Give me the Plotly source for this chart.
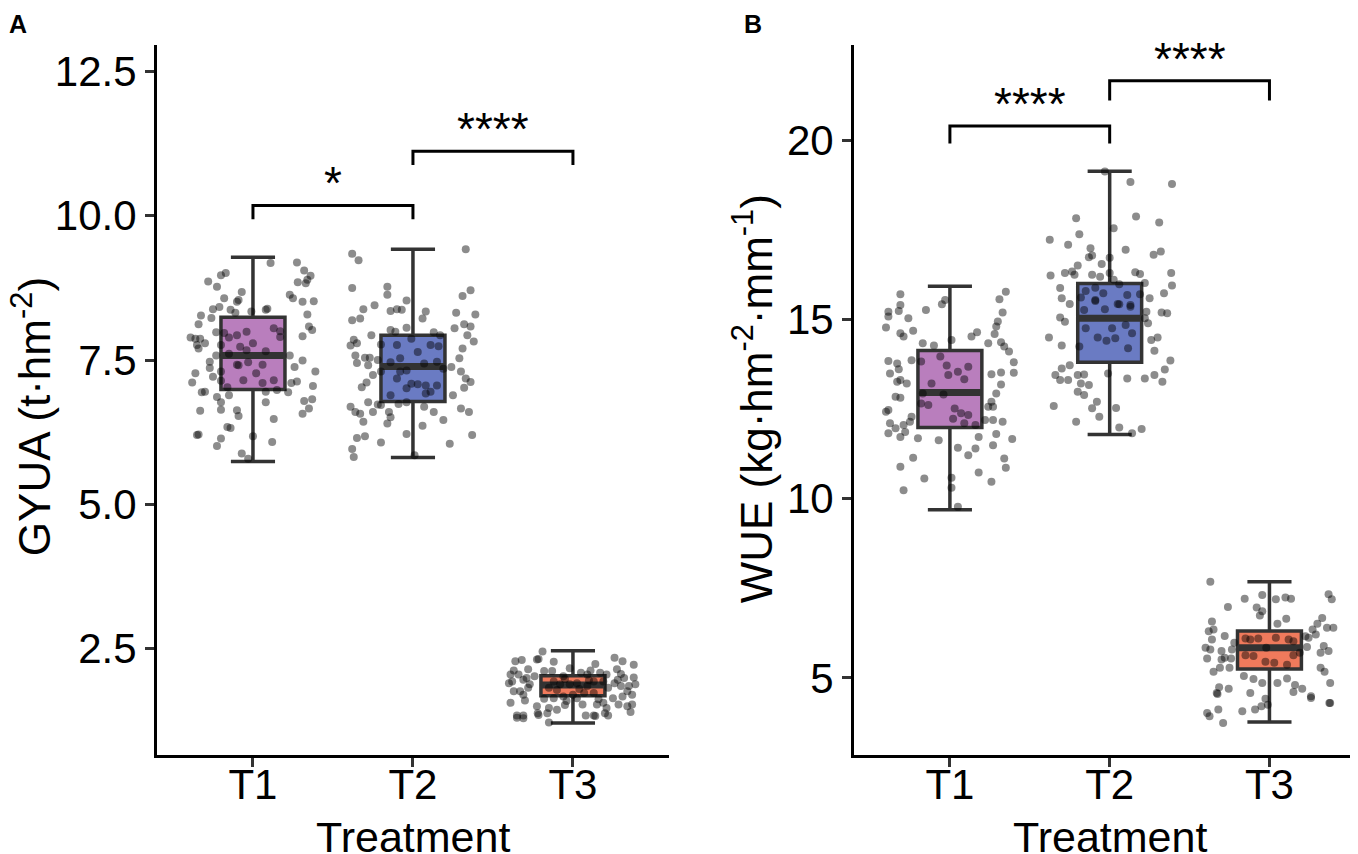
import plotly.graph_objects as go

# ── data ──────────────────────────────────────────────────────────────────────
CATS = ["T1", "T2", "T3"]
FILLS = ["#B97EBD", "#6A7BC3", "#F07A5C"]

# panel A: GYUA (t·hm-2)
GYUA_LOW = [5.74, 5.81, 1.21]
GYUA_Q1 = [6.99, 6.78, 1.68]
GYUA_MED = [7.58, 7.39, 1.87]
GYUA_Q3 = [8.24, 7.93, 2.03]
GYUA_HIGH = [9.28, 9.42, 2.46]

# panel B: WUE (kg·hm-2·mm-1)
WUE_LOW = [9.69, 11.79, 3.77]
WUE_Q1 = [11.98, 13.80, 5.25]
WUE_MED = [12.96, 15.03, 5.84]
WUE_Q3 = [14.13, 16.00, 6.31]
WUE_HIGH = [15.92, 19.13, 7.68]

# significance brackets
GYUA_PAIRS = [(1, 2), (2, 3)]
GYUA_BRACKET = [10.18, 11.12]
GYUA_TIP = [9.94, 10.88]
GYUA_SIG = ["*", "****"]

WUE_PAIRS = [(1, 2), (2, 3)]
WUE_BRACKET = [20.39, 21.65]
WUE_TIP = [19.90, 21.10]
WUE_SIG = ["****", "****"]

# jittered observations: (horizontal jitter, value)
A_T1_PTS = [
    (0.11, 9.18), (0.275, 9.19), (0.32, 9.05), (0.36, 8.96), (0.34, 8.89), (0.33, 8.83), (0.28, 8.85),
    (-0.20, 8.97), (-0.17, 9.01), (-0.28, 8.86), (-0.225, 8.77), (-0.07, 8.68), (-0.10, 8.51), (-0.09, 8.54),
    (-0.18, 8.57), (0.25, 8.57), (0.31, 8.51), (0.38, 8.52), (0.23, 8.63), (-0.21, 8.42), (-0.25, 8.38),
    (-0.14, 8.37), (-0.11, 8.32), (-0.01, 8.34), (0.09, 8.39), (0.08, 8.37), (0.34, 8.29), (-0.325, 8.27),
    (-0.26, 8.23), (-0.34, 8.12), (-0.23, 7.98), (-0.18, 7.97), (-0.15, 7.89), (-0.10, 7.93), (-0.04, 7.99),
    (0.13, 8.05), (0.17, 8.00), (0.35, 8.08), (0.37, 8.02), (0.31, 7.91), (-0.39, 7.89), (-0.36, 7.87),
    (-0.33, 7.87), (-0.35, 7.76), (-0.30, 7.79), (-0.34, 7.70), (-0.20, 7.76), (-0.08, 7.73), (0.0, 7.79),
    (0.17, 7.90), (0.08, 7.65), (0.23, 7.58), (-0.04, 7.67), (-0.15, 7.61), (-0.27, 7.47), (-0.23, 7.58),
    (-0.27, 7.36), (-0.10, 7.42), (-0.09, 7.41), (-0.03, 7.46), (0.06, 7.42), (0.26, 7.38), (0.31, 7.49),
    (-0.36, 7.27), (-0.20, 7.30), (0.02, 7.27), (-0.25, 7.21), (-0.38, 7.11), (-0.20, 7.14), (-0.06, 7.15),
    (0.06, 7.10), (0.13, 7.15), (0.24, 7.10), (0.275, 7.13), (0.39, 7.30), (0.375, 7.05), (-0.16, 7.03),
    (-0.32, 6.94), (-0.30, 6.95), (0.08, 6.95), (0.15, 6.98), (0.22, 6.94), (-0.225, 6.86), (-0.20, 6.77),
    (-0.15, 6.89), (0.08, 6.77), (0.32, 6.79), (0.37, 6.82), (0.35, 6.66), (0.31, 6.57), (-0.33, 6.62),
    (-0.20, 6.64), (-0.10, 6.63), (-0.09, 6.53), (0.13, 6.48), (-0.14, 6.32), (-0.16, 6.34), (-0.35, 6.20),
    (-0.20, 6.14), (-0.225, 6.01), (0.0, 6.18), (0.12, 6.08), (-0.07, 5.88), (-0.03, 5.79), (-0.34, 6.21),
]
A_T2_PTS = [
    (-0.38, 9.34), (-0.34, 9.23), (0.33, 9.42), (-0.38, 8.75), (-0.16, 8.77), (-0.16, 8.63), (-0.04, 8.53),
    (0.36, 8.71), (0.31, 8.61), (-0.24, 8.45), (-0.31, 8.38), (-0.14, 8.35), (-0.10, 8.38), (-0.07, 8.37),
    (0.08, 8.34), (0.06, 8.22), (-0.38, 8.19), (-0.33, 8.22), (0.27, 8.32), (0.32, 8.12), (0.36, 8.08),
    (0.39, 8.29), (-0.26, 7.93), (-0.14, 8.02), (-0.11, 7.99), (-0.04, 8.06), (0.13, 7.98), (0.17, 7.93),
    (0.26, 8.05), (0.34, 7.93), (0.38, 7.82), (-0.37, 7.85), (-0.39, 7.75), (-0.35, 7.79), (-0.20, 7.77),
    (-0.10, 7.76), (-0.01, 7.87), (0.03, 7.64), (0.11, 7.76), (0.16, 7.74), (0.31, 7.70), (-0.36, 7.58),
    (-0.30, 7.54), (-0.27, 7.54), (-0.22, 7.50), (-0.14, 7.46), (-0.08, 7.53), (-0.08, 7.30), (-0.04, 7.32),
    (0.07, 7.44), (0.15, 7.47), (0.19, 7.35), (0.24, 7.38), (0.29, 7.53), (-0.35, 7.45), (-0.28, 7.41),
    (-0.25, 7.24), (-0.20, 7.30), (-0.32, 7.03), (-0.29, 7.11), (-0.10, 7.18), (-0.01, 7.09), (0.03, 7.08),
    (0.08, 7.06), (0.15, 7.06), (0.30, 7.30), (0.33, 7.18), (0.36, 7.12), (0.32, 7.02), (-0.14, 6.89),
    (-0.04, 7.01), (0.08, 6.92), (0.11, 6.95), (0.25, 6.89), (-0.28, 6.77), (-0.22, 6.73), (-0.09, 6.74),
    (-0.04, 6.77), (0.07, 6.69), (0.13, 6.60), (0.30, 6.66), (0.35, 6.60), (-0.39, 6.69), (-0.36, 6.60),
    (-0.33, 6.57), (-0.25, 6.60), (-0.20, 6.72), (-0.15, 6.60), (-0.14, 6.51), (-0.31, 6.43), (-0.16, 6.40),
    (0.19, 6.46), (0.06, 6.36), (-0.35, 6.15), (-0.30, 6.18), (-0.20, 6.07), (-0.04, 6.22), (0.23, 6.05),
    (0.37, 6.20), (-0.38, 5.96), (-0.37, 5.82), (0.01, 5.85),
]
A_T3_PTS = [
    (-0.19, 2.45), (-0.225, 2.31), (-0.215, 2.32), (-0.12, 2.27), (-0.36, 2.28), (-0.32, 2.30), (-0.28, 2.14),
    (-0.37, 2.12), (-0.39, 2.05), (-0.34, 2.05), (-0.31, 1.96), (-0.29, 1.99), (-0.27, 1.88), (-0.38, 1.93),
    (-0.40, 1.90), (-0.37, 1.76), (-0.33, 1.76), (-0.28, 1.82), (-0.31, 1.70), (-0.18, 2.11), (-0.13, 2.11),
    (-0.06, 2.02), (0.05, 2.08), (0.09, 2.05), (0.14, 2.23), (0.17, 2.08), (0.21, 2.05), (0.26, 2.34),
    (0.31, 2.28), (0.38, 2.22), (0.275, 2.14), (0.32, 1.99), (0.38, 2.00), (0.39, 1.88), (0.35, 1.85),
    (0.30, 1.85), (0.26, 1.90), (0.22, 1.82), (0.34, 1.76), (0.37, 1.70), (0.31, 1.67), (0.25, 1.64),
    (0.19, 1.93), (0.13, 1.93), (0.09, 1.85), (0.025, 1.90), (-0.02, 1.88), (-0.08, 1.88), (-0.12, 1.93),
    (-0.15, 1.82), (0.0, 1.70), (0.07, 1.73), (0.13, 1.73), (-0.06, 1.67), (-0.12, 1.64), (-0.18, 1.63),
    (-0.225, 1.50), (-0.15, 1.47), (-0.10, 1.44), (-0.16, 1.38), (-0.215, 1.35), (0.06, 1.53), (0.15, 1.53),
    (0.19, 1.56), (0.21, 1.47), (0.285, 1.53), (0.34, 1.50), (-0.39, 1.56), (-0.35, 1.34), (-0.31, 1.34),
    (0.08, 1.34), (0.13, 1.34), (0.22, 1.34), (0.36, 1.40), (-0.04, 1.59), (0.025, 1.64), (-0.35, 1.30),
    (-0.31, 1.29), (-0.15, 1.22), (0.14, 1.33), (0.20, 1.38), (-0.22, 1.38), (0.37, 1.53),
    (-0.24, 2.02), (-0.05, 1.97), (0.04, 1.80), (0.10, 1.95), (-0.10, 1.78), (0.28, 1.96), (-0.30, 1.60),
    (0.16, 1.62), (-0.05, 1.52), (0.30, 2.06), (-0.02, 2.16), (0.11, 2.12),
]
B_T1_PTS = [
    (-0.31, 15.70), (0.35, 15.77), (0.31, 15.56), (-0.385, 15.21), (-0.385, 15.08), (-0.32, 15.23),
    (-0.31, 15.40), (-0.15, 15.26), (-0.05, 15.42), (-0.03, 15.54), (-0.26, 15.03), (0.33, 15.19),
    (0.30, 14.94), (0.29, 14.80), (-0.40, 14.77), (-0.23, 14.68), (-0.31, 14.61), (-0.29, 14.52),
    (0.17, 14.64), (0.135, 14.52), (0.28, 14.59), (-0.17, 14.33), (-0.10, 14.27), (0.01, 14.42),
    (0.24, 14.33), (0.32, 14.36), (0.34, 14.24), (0.37, 14.10), (-0.385, 13.84), (-0.33, 13.77),
    (-0.24, 13.86), (-0.18, 13.82), (-0.06, 13.96), (0.115, 13.68), (0.05, 13.54), (-0.02, 13.71),
    (0.40, 13.80), (0.40, 13.51), (0.26, 13.47), (0.32, 13.52), (-0.375, 13.49), (-0.32, 13.61),
    (-0.33, 13.26), (-0.27, 13.21), (-0.31, 13.31), (-0.115, 13.21), (0.09, 13.33), (-0.01, 13.45),
    (0.32, 13.18), (-0.34, 12.84), (-0.31, 12.81), (-0.17, 12.93), (-0.04, 12.90), (0.29, 12.93),
    (0.26, 12.70), (0.24, 12.56), (0.27, 12.56), (-0.40, 12.42), (-0.385, 12.47), (-0.24, 12.28),
    (-0.18, 12.65), (-0.135, 12.61), (0.03, 12.51), (0.07, 12.38), (0.115, 12.33), (0.22, 12.19),
    (0.27, 12.19), (0.33, 12.14), (-0.375, 12.10), (-0.385, 11.82), (-0.34, 11.96), (-0.31, 11.72),
    (-0.28, 11.86), (-0.29, 12.05), (-0.25, 12.14), (-0.20, 11.68), (0.02, 12.23), (0.09, 12.10),
    (0.16, 12.05), (0.18, 11.72), (0.29, 11.80), (0.39, 11.66), (-0.07, 11.63), (0.05, 11.42),
    (0.115, 11.21), (0.16, 11.40), (0.27, 11.49), (-0.23, 11.14), (-0.31, 10.89), (0.34, 11.12),
    (0.35, 10.86), (0.18, 10.73), (-0.16, 10.56), (0.01, 10.58), (0.26, 10.47), (-0.29, 10.23),
    (0.01, 10.30), (0.05, 9.77),
]
B_T2_PTS = [
    (-0.03, 19.12), (0.13, 18.83), (0.39, 18.77), (-0.21, 17.82), (0.165, 17.87), (0.31, 17.70),
    (0.025, 17.54), (-0.19, 17.37), (-0.375, 17.22), (-0.26, 17.08), (-0.12, 16.98), (0.10, 16.94),
    (0.275, 16.80), (0.32, 16.89), (-0.13, 16.73), (-0.11, 16.78), (0.0, 16.72), (-0.05, 16.54),
    (-0.20, 16.50), (-0.235, 16.33), (-0.28, 16.29), (-0.22, 16.24), (-0.37, 16.22), (-0.11, 16.24),
    (-0.06, 16.19), (0.0, 16.29), (0.16, 16.31), (0.19, 16.26), (0.385, 16.29), (0.22, 16.01),
    (0.025, 16.10), (-0.09, 15.88), (-0.04, 15.73), (0.06, 15.98), (0.11, 15.68), (0.19, 15.70),
    (-0.18, 15.61), (-0.09, 15.51), (0.05, 15.43), (0.13, 15.40), (0.39, 15.94), (0.34, 15.73),
    (-0.31, 15.87), (-0.30, 15.59), (-0.25, 15.43), (-0.15, 15.79), (-0.09, 15.54), (-0.03, 15.28),
    (0.06, 15.42), (0.13, 15.35), (0.25, 15.59), (0.23, 15.21), (0.325, 15.19), (0.36, 15.17),
    (-0.31, 15.05), (-0.28, 14.93), (-0.16, 15.26), (-0.15, 14.75), (0.015, 14.75), (0.10, 14.84),
    (0.14, 14.61), (0.22, 15.03), (0.24, 14.89), (-0.38, 14.49), (-0.30, 14.27), (-0.19, 14.24),
    (-0.075, 14.49), (-0.02, 14.40), (0.035, 14.47), (0.115, 14.19), (0.26, 14.42), (0.30, 14.49),
    (0.28, 14.12), (0.38, 13.85), (0.345, 13.60), (0.28, 13.45), (0.33, 13.26), (0.22, 13.35),
    (0.11, 13.35), (-0.01, 13.49), (-0.30, 13.63), (-0.25, 13.72), (-0.34, 13.45), (-0.31, 13.31),
    (-0.26, 13.31), (-0.20, 13.45), (-0.16, 13.46), (-0.18, 13.21), (-0.13, 13.17), (-0.20, 12.98),
    (-0.16, 12.89), (-0.35, 12.58), (-0.08, 12.70), (-0.11, 12.52), (-0.065, 12.28), (0.04, 12.53),
    (-0.21, 12.14), (0.06, 11.98), (0.20, 11.94), (0.14, 11.82),
]
B_T3_PTS = [
    (-0.37, 7.68), (-0.045, 7.31), (-0.155, 7.21), (0.04, 7.19), (0.10, 7.24), (0.135, 7.21), (0.37, 7.33),
    (0.39, 7.19), (-0.26, 6.98), (-0.08, 6.96), (-0.045, 6.86), (-0.06, 6.74), (0.05, 6.51), (0.105, 6.65),
    (-0.36, 6.57), (-0.38, 6.30), (-0.35, 6.35), (-0.28, 6.17), (-0.36, 6.07), (-0.40, 5.84), (-0.37, 5.79),
    (-0.30, 5.75), (-0.39, 5.54), (-0.30, 5.51), (-0.28, 5.56), (-0.24, 5.54), (-0.31, 5.28), (-0.35, 5.17),
    (-0.25, 5.28), (-0.22, 5.98), (-0.235, 5.79), (-0.15, 6.10), (-0.12, 6.07), (-0.07, 6.10), (-0.02, 5.84),
    (0.04, 6.12), (0.12, 6.07), (0.15, 6.02), (-0.15, 5.63), (-0.10, 5.61), (-0.025, 5.45), (0.03, 5.42),
    (0.11, 5.37), (0.15, 5.63), (0.19, 5.70), (0.225, 6.16), (0.27, 6.35), (0.30, 6.51), (0.33, 6.67),
    (0.36, 6.40), (0.40, 6.40), (0.29, 6.21), (0.245, 6.12), (0.34, 5.89), (0.37, 5.75), (0.32, 5.70),
    (0.235, 5.86), (0.32, 5.28), (0.345, 5.17), (-0.16, 5.05), (-0.10, 4.97), (-0.045, 4.86), (0.05, 4.86),
    (0.11, 4.98), (0.16, 4.80), (0.205, 4.70), (-0.315, 4.74), (-0.255, 4.70), (-0.325, 4.55), (-0.12, 4.58),
    (-0.025, 4.42), (0.15, 4.61), (0.26, 4.49), (0.38, 4.86), (0.38, 4.30), (-0.39, 4.02), (-0.32, 4.12),
    (-0.29, 3.74), (-0.17, 4.07), (-0.09, 4.12), (-0.05, 4.21), (-0.01, 4.25), (-0.33, 4.58), (0.26, 4.44),
    (0.375, 4.30), (-0.375, 3.93),
]

# ── style ─────────────────────────────────────────────────────────────────────
FONT = "Liberation Sans, Arial, sans-serif"
LINE_COL = "#333333"
PT_COL = "rgba(0,0,0,0.45)"

fig = go.Figure()


def add_panel(xa, ya, low, q1, med, q3, high, groups, pairs, bracket, tip, sig):
    for i in range(len(CATS)):
        pos = i + 1
        fig.add_trace(go.Box(
            x=[pos], q1=[q1[i]], median=[med[i]], q3=[q3[i]],
            lowerfence=[low[i]], upperfence=[high[i]],
            width=0.4, whiskerwidth=0.69, boxpoints=False,
            fillcolor=FILLS[i], line=dict(color=LINE_COL, width=3.5),
            xaxis=xa, yaxis=ya, showlegend=False, hoverinfo="skip",
        ))
        # thick median bar, like ggplot's fatten
        fig.add_trace(go.Scatter(
            x=[pos - 0.2, pos + 0.2], y=[med[i], med[i]], mode="lines",
            line=dict(color=LINE_COL, width=7),
            xaxis=xa, yaxis=ya, showlegend=False, hoverinfo="skip",
        ))
    for i, pts in enumerate(groups):
        fig.add_trace(go.Scatter(
            x=[i + 1 + dx for dx, _ in pts], y=[v for _, v in pts],
            mode="markers", marker=dict(size=8, color=PT_COL, line=dict(width=0)),
            xaxis=xa, yaxis=ya, showlegend=False,
        ))
    for (a, b), top, t, s in zip(pairs, bracket, tip, sig):
        fig.add_trace(go.Scatter(
            x=[a, a, b, b], y=[t, top, top, t], mode="lines",
            line=dict(color="black", width=3),
            xaxis=xa, yaxis=ya, showlegend=False, hoverinfo="skip",
        ))
        fig.add_annotation(
            x=(a + b) / 2, y=top, xref=xa, yref=ya, text=s, showarrow=False,
            xanchor="center", yanchor="bottom", yshift=-6,
            font=dict(family=FONT, size=46, color="black"),
        )


add_panel("x", "y", GYUA_LOW, GYUA_Q1, GYUA_MED, GYUA_Q3, GYUA_HIGH,
          [A_T1_PTS, A_T2_PTS, A_T3_PTS], GYUA_PAIRS, GYUA_BRACKET, GYUA_TIP, GYUA_SIG)
add_panel("x2", "y2", WUE_LOW, WUE_Q1, WUE_MED, WUE_Q3, WUE_HIGH,
          [B_T1_PTS, B_T2_PTS, B_T3_PTS], WUE_PAIRS, WUE_BRACKET, WUE_TIP, WUE_SIG)

AXIS = dict(
    showline=True, linecolor="black", linewidth=3,
    ticks="outside", ticklen=9, tickwidth=3, tickcolor=LINE_COL,
    showgrid=False, zeroline=False,
    tickfont=dict(family=FONT, size=42, color="black"),
)
YDOM = [0.1253, 0.9567]

fig.update_layout(
    width=1358, height=854,
    margin=dict(l=0, r=0, t=0, b=0),
    paper_bgcolor="white", plot_bgcolor="white",
    showlegend=False,
    xaxis=dict(AXIS, domain=[0.1097, 0.4867], range=[0.4, 3.6], ticklabelstandoff=-18,
               tickvals=[1, 2, 3], ticktext=CATS, anchor="y"),
    yaxis=dict(AXIS, domain=YDOM, range=[0.655, 12.96],
               tickvals=[2.5, 5, 7.5, 10, 12.5], tickformat=".1f", anchor="x"),
    xaxis2=dict(AXIS, domain=[0.623, 0.9995], range=[0.4, 3.6], ticklabelstandoff=-18,
                tickvals=[1, 2, 3], ticktext=CATS, anchor="y2"),
    yaxis2=dict(AXIS, domain=YDOM, range=[2.85, 22.65],
                tickvals=[5, 10, 15, 20], anchor="x2"),
)

# panel tags and axis titles
X_TITLE_FONT = dict(family=FONT, size=43, color="black")
Y_TITLE_FONT = dict(family=FONT, size=44, color="black")
TAG_FONT = dict(family=FONT, size=25, color="black")
fig.add_annotation(x=0.0074, y=0.981, xref="paper", yref="paper", text="<b>A</b>",
                   xanchor="center", yanchor="middle", showarrow=False, font=TAG_FONT)
fig.add_annotation(x=0.5486, y=0.981, xref="paper", yref="paper", text="<b>B</b>",
                   xanchor="center", yanchor="middle", showarrow=False, font=TAG_FONT)
for xa in ["x", "x2"]:
    fig.add_annotation(x=2, y=0.0293, xref=xa, yref="paper", text="Treatment",
                       xanchor="center", yanchor="middle", showarrow=False, font=X_TITLE_FONT)
fig.add_annotation(x=0.0170, y=0.521, xref="paper", yref="paper", textangle=-90,
                   xanchor="center", yanchor="middle",
                   text="GYUA (t·hm<sup>-2</sup>)", showarrow=False, font=Y_TITLE_FONT)
fig.add_annotation(x=0.548, y=0.542, xref="paper", yref="paper", textangle=-90,
                   xanchor="center", yanchor="middle",
                   text="WUE (kg·hm<sup>-2</sup>·mm<sup>-1</sup>)", showarrow=False, font=Y_TITLE_FONT)

fig.write_html("out.html")
